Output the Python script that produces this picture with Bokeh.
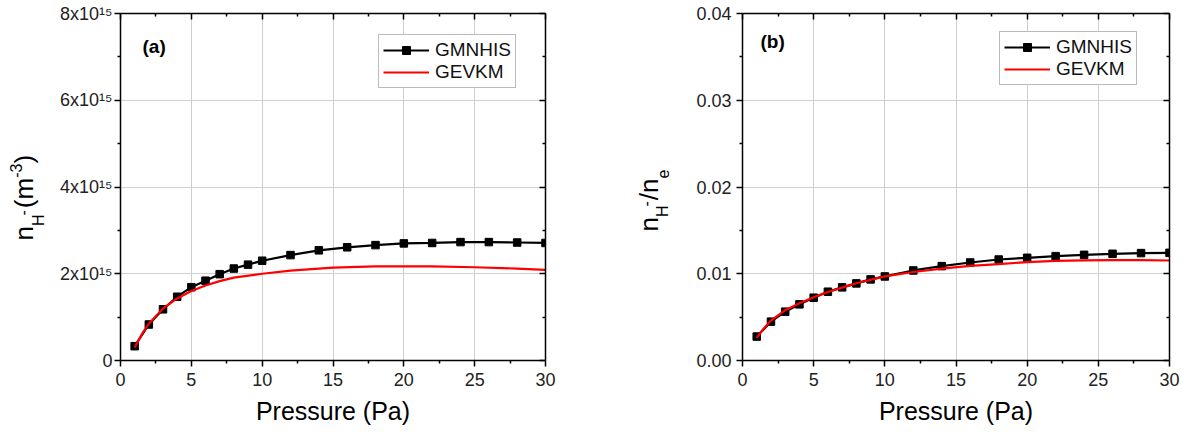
import math
from bokeh.plotting import figure
from bokeh.models import (Range1d, FixedTicker, LinearAxis, Label, Legend, LegendItem,
                          NumeralTickFormatter, CustomLabelingPolicy)
from bokeh.layouts import row
from bokeh.embed import file_html
from bokeh.resources import INLINE

FONT = "Liberation Sans"

# ---------------- data ----------------
pressure_pa = [1, 2, 3, 4, 5, 6, 7, 8, 9, 10, 12, 14, 16, 18, 20, 22, 24, 26, 28, 30]
# panel (a): H- density, in units of 1e15 m^-3
nh_gmnhis_e15 = [0.33, 0.83, 1.18, 1.47, 1.69, 1.84, 1.99, 2.12, 2.21, 2.30,
                 2.43, 2.54, 2.61, 2.66, 2.70, 2.71, 2.73, 2.73, 2.72, 2.71]
gevkm_pressure_a = [1, 1.5, 2, 3, 4, 5, 6, 7, 8, 10, 12, 15, 18, 20, 22, 25, 28, 30]
nh_gevkm_e15 = [0.30, 0.60, 0.85, 1.20, 1.43, 1.60, 1.73, 1.83, 1.91, 2.00,
                2.07, 2.14, 2.17, 2.17, 2.17, 2.15, 2.12, 2.09]
# panel (b): ratio nH-/ne
ratio_gmnhis = [0.00276, 0.00448, 0.00563, 0.00647, 0.00724, 0.00793, 0.00843, 0.00889,
                0.00935, 0.00969, 0.01038, 0.01088, 0.01130, 0.01164, 0.01184, 0.01203,
                0.01218, 0.01230, 0.01238, 0.01241]
gevkm_pressure_b = [1, 1.5, 2, 3, 4, 5, 6, 7, 8, 10, 12, 14, 16, 18, 20, 22, 24, 26, 28, 30]
ratio_gevkm = [0.0026, 0.0037, 0.0046, 0.0058, 0.0066, 0.0073, 0.0079, 0.0084, 0.0089,
               0.0097, 0.0102, 0.0106, 0.0109, 0.0111, 0.01135, 0.01148, 0.01155,
               0.01158, 0.01156, 0.01153]

x_major = [0, 5, 10, 15, 20, 25, 30]
x_minor = [2.5, 7.5, 12.5, 17.5, 22.5, 27.5]
ya_major = [0, 2, 4, 6, 8]
ya_minor = [1, 3, 5, 7]
ya_labels = {0: "0", 2: "2x10¹⁵", 4: "4x10¹⁵", 6: "6x10¹⁵", 8: "8x10¹⁵"}
yb_major = [0.0, 0.01, 0.02, 0.03, 0.04]
yb_minor = [0.005, 0.015, 0.025, 0.035]
series_names = ["GMNHIS", "GEVKM"]
x_title = "Pressure (Pa)"

# frame (shared by the row): top 13 px, bottom 360 px
TOP, BOTTOM_BORDER = 13, 74
FRAME_BOTTOM = 434 - BOTTOM_BORDER
FRAME_H = FRAME_BOTTOM - TOP
MID = 0.35  # baseline offset from the middle of a text box, in ems

HIDE_ALL = CustomLabelingPolicy(code="""
    const idx = Array.from(indices)
    for (const i of idx) indices.unset(i)
    return indices
""")


def style_axis(ax, ticker, label_size, standoff):
    ax.ticker = ticker
    ax.axis_line_width = 1.5
    ax.axis_line_color = "black"
    ax.major_tick_line_width = 1.5
    ax.minor_tick_line_width = 1.5
    ax.major_tick_in = 0
    ax.major_tick_out = 6
    ax.minor_tick_in = 0
    ax.minor_tick_out = 3
    ax.major_label_text_font = FONT
    ax.major_label_text_font_size = label_size
    ax.major_label_text_color = "#222222"
    ax.major_label_standoff = standoff


def mirror_axis(p, ticker, side):
    ax = LinearAxis(ticker=ticker)
    ax.axis_line_width = 1.5
    ax.axis_line_color = "black"
    ax.major_tick_line_width = 1.5
    ax.minor_tick_line_width = 1.5
    ax.major_tick_in = 6
    ax.major_tick_out = 0
    ax.minor_tick_in = 3
    ax.minor_tick_out = 0
    ax.major_label_text_font_size = "1px"
    ax.major_label_standoff = 0
    ax.major_label_policy = HIDE_ALL
    p.add_layout(ax, side)


def make_panel(width, left, right, yrange, yticker, ylabel_size, ystandoff):
    p = figure(width=width, height=434, output_backend="svg", toolbar_location=None,
               x_range=Range1d(0, 30), y_range=yrange,
               min_border_left=left, min_border_right=right,
               min_border_top=TOP, min_border_bottom=BOTTOM_BORDER)
    p.background_fill_color = "white"
    p.border_fill_color = "white"
    p.outline_line_color = None
    xt = FixedTicker(ticks=x_major, minor_ticks=x_minor)
    style_axis(p.xaxis[0], xt, "18px", 6)
    style_axis(p.yaxis[0], yticker, ylabel_size, ystandoff)
    p.xaxis[0].axis_label = x_title
    p.xaxis[0].axis_label_text_font = FONT
    p.xaxis[0].axis_label_text_font_size = "25px"
    p.xaxis[0].axis_label_text_font_style = "normal"
    p.xaxis[0].axis_label_text_color = "black"
    p.xaxis[0].axis_label_standoff = 8
    mirror_axis(p, xt, "above")
    mirror_axis(p, yticker, "right")
    p.xgrid.ticker = xt
    p.ygrid.ticker = yticker
    for g in (p.xgrid[0], p.ygrid[0]):
        g.grid_line_color = "#cfcfcf"
        g.grid_line_width = 1
    return p


def add_series(p, xs, ys, xr, yr, loc):
    lb = p.line(xs, ys, line_color="black", line_width=2.2)
    sb = p.scatter(xs, ys, marker="square", size=7.5, fill_color="black", line_color="black")
    lr = p.line(xr, yr, line_color="#ff0000", line_width=2.2)
    leg = Legend(items=[LegendItem(label=series_names[0], renderers=[lb, sb]),
                        LegendItem(label=series_names[1], renderers=[lr])],
                 location=loc, orientation="vertical")
    leg.label_text_font = FONT
    leg.label_text_font_size = "19px"
    leg.label_text_color = "#111111"
    leg.glyph_width = 46
    leg.glyph_height = 20
    leg.label_height = 20
    leg.label_standoff = 6
    leg.padding = 4
    leg.spacing = 0
    leg.margin = 0
    leg.border_line_color = "#777777"
    leg.border_line_width = 1
    leg.background_fill_color = "white"
    leg.background_fill_alpha = 1
    p.add_layout(leg, "center")


def title_strip(width, pieces, base_x, start_y):
    """Narrow strip carrying the rotated y title with its sub/superscripts.
    Its data coordinates equal the page's pixel coordinates (x local to the strip)."""
    f = figure(width=width, height=434, output_backend="svg", toolbar_location=None,
               x_range=Range1d(0, width), y_range=Range1d(FRAME_BOTTOM, TOP),
               x_axis_type=None, y_axis_type=None, min_border=0, title=None)
    f.outline_line_color = None
    f.background_fill_color = "white"
    f.border_fill_color = "white"
    f.grid.visible = False
    f.min_border_top = TOP
    f.min_border_bottom = BOTTOM_BORDER
    u = 0.0
    for text, size, boff, adv in pieces:
        f.add_layout(Label(x=base_x + boff - MID * size, y=start_y - u, text=text,
                           angle=math.pi / 2, text_font=FONT, text_font_size=f"{size}px",
                           text_color="black", text_align="left", text_baseline="middle"))
        u += adv
    return f


M, S = 26, 16

# ---------------- panel (a) ----------------
ta = title_strip(55, [("n", M, 0, 0.556 * M), ("H", S, 11, 0.722 * S - 1),
                      ("-", S, -5, 0.333 * S + 2), ("(m", M, 0, 1.166 * M),
                      ("-3", S, -12, 0.889 * S), (")", M, 0, 0.333 * M)], 33, 240)
pa = make_panel(545, 65, 55, Range1d(0, 8),
                FixedTicker(ticks=ya_major, minor_ticks=ya_minor), "18px", 2)
pa.yaxis[0].major_label_overrides = ya_labels
add_series(pa, pressure_pa, nh_gmnhis_e15, gevkm_pressure_a, nh_gevkm_e15,
           (258, FRAME_BOTTOM - 88))
pa.add_layout(Label(x=(142 - 120) / 425 * 30,
                    y=(FRAME_BOTTOM - (53 - MID * 19)) / FRAME_H * 8,
                    text="(a)", text_font=FONT, text_font_size="19px",
                    text_font_style="bold", text_color="black", text_baseline="middle"))

# ---------------- panel (b) ----------------
tb = title_strip(75, [("n", M, 0, 0.556 * M), ("H", S, 10, 0.722 * S - 1),
                      ("-", S, -7, 0.333 * S + 1), ("/n", M, 0, 0.834 * M),
                      ("e", S, 10, 0.556 * S)], 58, 231)
pb = make_panel(509, 67, 15, Range1d(0, 0.04),
                FixedTicker(ticks=yb_major, minor_ticks=yb_minor), "18px", 5)
pb.yaxis[0].formatter = NumeralTickFormatter(format="0.00")
add_series(pb, pressure_pa, ratio_gmnhis, gevkm_pressure_b, ratio_gevkm,
           (257, FRAME_BOTTOM - 85))
pb.add_layout(Label(x=(760 - 742) / 427 * 30,
                    y=(FRAME_BOTTOM - (48 - MID * 19)) / FRAME_H * 0.04,
                    text="(b)", text_font=FONT, text_font_size="19px",
                    text_font_style="bold", text_color="black", text_baseline="middle"))

layout = row(ta, pa, tb, pb)
open("out.html", "w").write(file_html(layout, INLINE))
